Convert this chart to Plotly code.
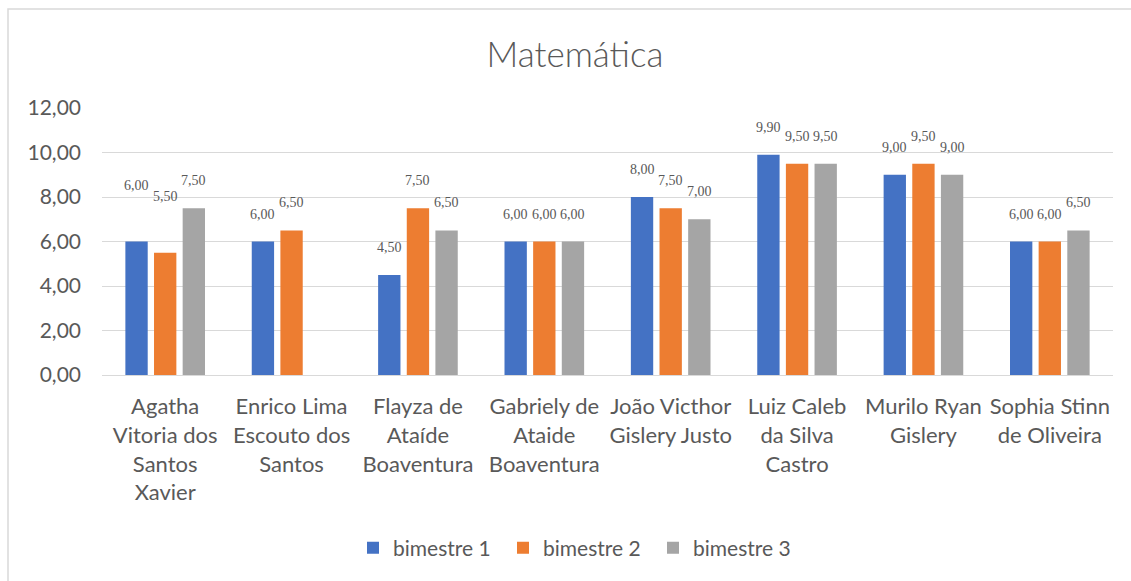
import plotly.graph_objects as go

# Notas de Matemática por aluno e bimestre
alunos = [
    "Agatha<br>Vitoria dos<br>Santos<br>Xavier",
    "Enrico Lima<br>Escouto dos<br>Santos",
    "Flayza de<br>Ataíde<br>Boaventura",
    "Gabriely de<br>Ataide<br>Boaventura",
    "João Victhor<br>Gislery Justo",
    "Luiz Caleb<br>da Silva<br>Castro",
    "Murilo Ryan<br>Gislery",
    "Sophia Stinn<br>de Oliveira",
]
bimestre_1 = [6.00, 6.00, 4.50, 6.00, 8.00, 9.90, 9.00, 6.00]
bimestre_2 = [5.50, 6.50, 7.50, 6.00, 7.50, 9.50, 9.50, 6.00]
bimestre_3 = [7.50, None, 6.50, 6.00, 7.00, 9.50, 9.00, 6.50]
series_names = ["bimestre 1", "bimestre 2", "bimestre 3"]
y_ticks = [0, 2, 4, 6, 8, 10, 12]

series = [bimestre_1, bimestre_2, bimestre_3]
colors = ["#4472C4", "#ED7D31", "#A5A5A5"]

# label placement (pixels above bar top), a few labels sit higher
label_lift = [
    [47, 18, 18, 18, 18, 18, 18, 18],
    [47, 18, 18, 18, 18, 18, 18, 18],
    [18, 18, 18, 18, 18, 18, 18, 18],
]

W, H = 1131, 581
ml, mr, mt, mb = 102, 18, 108, 206
bargap = 0.32
plot_w = W - ml - mr
plot_h = H - mt - mb
slot = plot_w / len(alunos) * (1 - bargap) / 3

TXT = "#595959"
GRID = "#D9D9D9"
SANS = "Lato"

fig = go.Figure()
for name, vals, col in zip(series_names, series, colors):
    fig.add_trace(go.Bar(name=name, x=alunos, y=vals, marker_color=col,
                         marker_line_width=0))

annotations = []
for si, vals in enumerate(series):
    for ci, v in enumerate(vals):
        if v is None:
            continue
        annotations.append(dict(
            x=alunos[ci], y=v, xref="x", yref="y",
            text=f"{v:.2f}".replace(".", ","),
            showarrow=False, xanchor="center", yanchor="bottom",
            xshift=(si - 1) * slot, yshift=label_lift[si][ci],
            font=dict(family="Liberation Serif", size=14, color=TXT),
        ))

fig.update_layout(
    width=W, height=H,
    margin=dict(l=ml, r=mr, t=mt, b=mb),
    paper_bgcolor="white", plot_bgcolor="white",
    separators=",.",
    barmode="group", bargap=bargap, bargroupgap=0.22,
    title=dict(text="Matemática", x=575 / W, xref="container", xanchor="center",
               y=1 - 55 / H, yref="container", yanchor="middle",
               font=dict(family=SANS, size=35, color=TXT, weight=300)),
    font=dict(family=SANS, size=21, color=TXT),
    xaxis=dict(showgrid=False, ticks="", showline=True, linecolor=GRID,
               linewidth=1, ticklabelstandoff=12,
               tickfont=dict(family=SANS, size=22, color=TXT)),
    yaxis=dict(range=[0, 12], tickvals=y_ticks, tickformat=".2f",
               showgrid=True, gridcolor=GRID, gridwidth=1, zeroline=False,
               showline=False, ticks="", ticklabelstandoff=20,
               tickfont=dict(family=SANS, size=21, color=TXT)),
    legend=dict(orientation="h", xref="container", x=353 / W, xanchor="left",
                yref="container", y=1 - 548 / H, yanchor="middle",
                font=dict(family=SANS, size=21, color=TXT),
                entrywidth=105, traceorder="normal"),
    annotations=annotations,
    shapes=[dict(type="rect", xref="paper", yref="paper",
                 x0=(8 - ml) / plot_w, x1=1.5,
                 y0=-2, y1=(H - mb - 9) / plot_h,
                 line=dict(color=GRID, width=1.5), fillcolor="rgba(0,0,0,0)",
                 layer="below")],
)

fig.write_html("out.html")
